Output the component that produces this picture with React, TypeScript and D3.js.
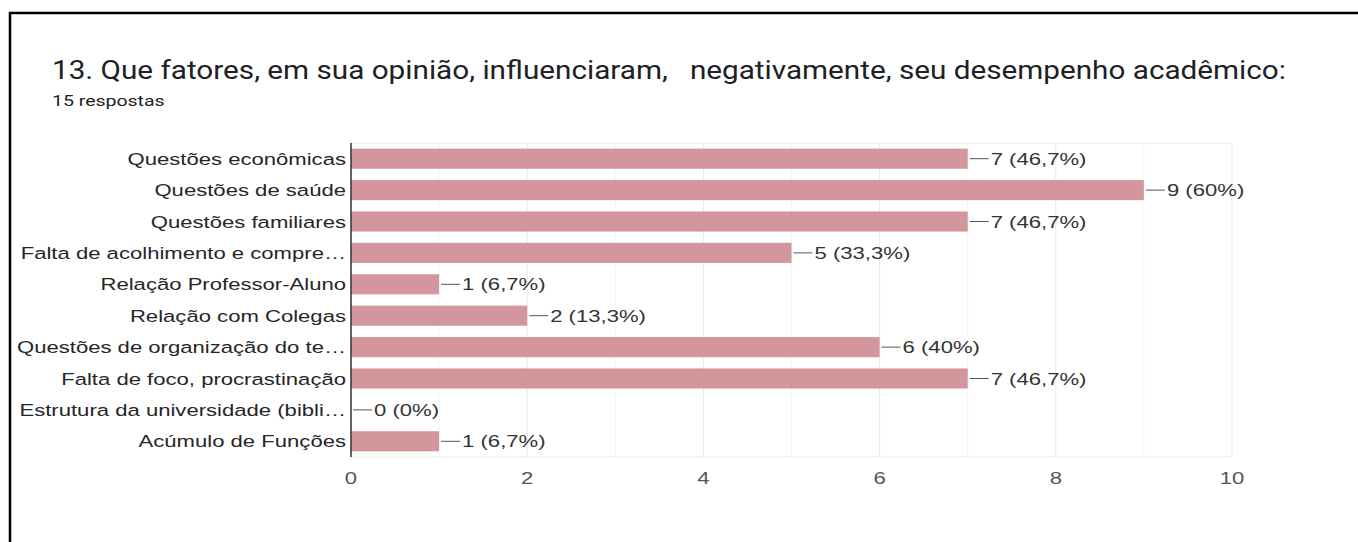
import React from "react";
import * as d3 from "d3";

const TITLE = "13. Que fatores, em sua opinião, influenciaram,   negativamente, seu desempenho acadêmico:";
const SUBTITLE = "15 respostas";
const categories = [
  "Questões econômicas",
  "Questões de saúde",
  "Questões familiares",
  "Falta de acolhimento e compre…",
  "Relação Professor-Aluno",
  "Relação com Colegas",
  "Questões de organização do te…",
  "Falta de foco, procrastinação",
  "Estrutura da universidade (bibli…",
  "Acúmulo de Funções",
];
const counts = [7, 9, 7, 5, 1, 2, 6, 7, 0, 1];
const percents = ["46,7%", "60%", "46,7%", "33,3%", "6,7%", "13,3%", "40%", "46,7%", "0%", "6,7%"];
const xTicks = [0, 2, 4, 6, 8, 10];
const minorTicks = [1, 3, 5, 7, 9];

const W = 1358;
const H = 542;
const SX = 1.3;
const FONT = "Arial, 'Liberation Sans', sans-serif";

export default function App() {
  const x = d3.scaleLinear().domain([0, 10]).range([351, 1232]);
  const y = d3.scaleBand<string>().domain(categories).range([143, 457]).paddingInner(0.36).paddingOuter(0.18);
  const [top, bottom] = y.range();
  const bw = y.bandwidth();

  return (
    <div style={{ position: "fixed", left: 0, top: 0 }}>
      <svg width={W} height={H} style={{ display: "block", background: "#fff" }}>
        <rect x={0} y={0} width={W} height={H} fill="#fff" />
        <line x1={9} x2={W} y1={13} y2={13} stroke="#000" strokeWidth={2.5} />
        <line x1={10} x2={10} y1={12} y2={H} stroke="#000" strokeWidth={2.5} />

        <text x={52} y={79} fontFamily="Roboto, sans-serif" fontSize={25} fill="#202124"
          textLength={1234} lengthAdjust="spacingAndGlyphs" style={{ whiteSpace: "pre" }}>
          {TITLE}
        </text>
        <text transform={`translate(52,106) scale(${SX},1)`} fontFamily="Roboto, sans-serif" fontSize={15} fill="#202124">
          {SUBTITLE}
        </text>

        {minorTicks.map((t) => (
          <line key={"m" + t} x1={x(t)} x2={x(t)} y1={top} y2={bottom} stroke="#f4f4f4" strokeWidth={1} />
        ))}
        {xTicks.map((t) => (
          <line key={"g" + t} x1={x(t)} x2={x(t)} y1={top} y2={bottom} stroke="#e8e8e8" strokeWidth={1} />
        ))}
        <line x1={x(0)} x2={x(10)} y1={top} y2={top} stroke="#ececec" />
        <line x1={x(0)} x2={x(10)} y1={bottom} y2={bottom} stroke="#ececec" />

        {categories.map((c, i) => {
          const yc = (y(c) as number) + bw / 2;
          const xe = x(counts[i]);
          return (
            <g key={c}>
              {counts[i] > 0 && (
                <rect x={x(0)} y={y(c) as number} width={xe - x(0)} height={bw} fill="#d4969d" />
              )}
              <line x1={xe + 2} x2={xe + 21} y1={yc} y2={yc} stroke="#555" strokeWidth={1} />
              <text transform={`translate(${xe + 23},${yc}) scale(${SX},1)`} dy="0.36em"
                fontFamily={FONT} fontSize={17} fill="#333">
                {`${counts[i]} (${percents[i]})`}
              </text>
              <text transform={`translate(346,${yc}) scale(${SX},1)`} dy="0.36em" textAnchor="end"
                fontFamily={FONT} fontSize={17} fill="#262626">
                {c}
              </text>
            </g>
          );
        })}

        <line x1={x(0)} x2={x(0)} y1={top} y2={bottom} stroke="#333" strokeWidth={1.5} />

        {xTicks.map((t) => (
          <text key={"t" + t} transform={`translate(${x(t)},478) scale(${SX},1)`} dy="0.36em" textAnchor="middle"
            fontFamily={FONT} fontSize={17} fill="#555">
            {t}
          </text>
        ))}
      </svg>
    </div>
  );
}
